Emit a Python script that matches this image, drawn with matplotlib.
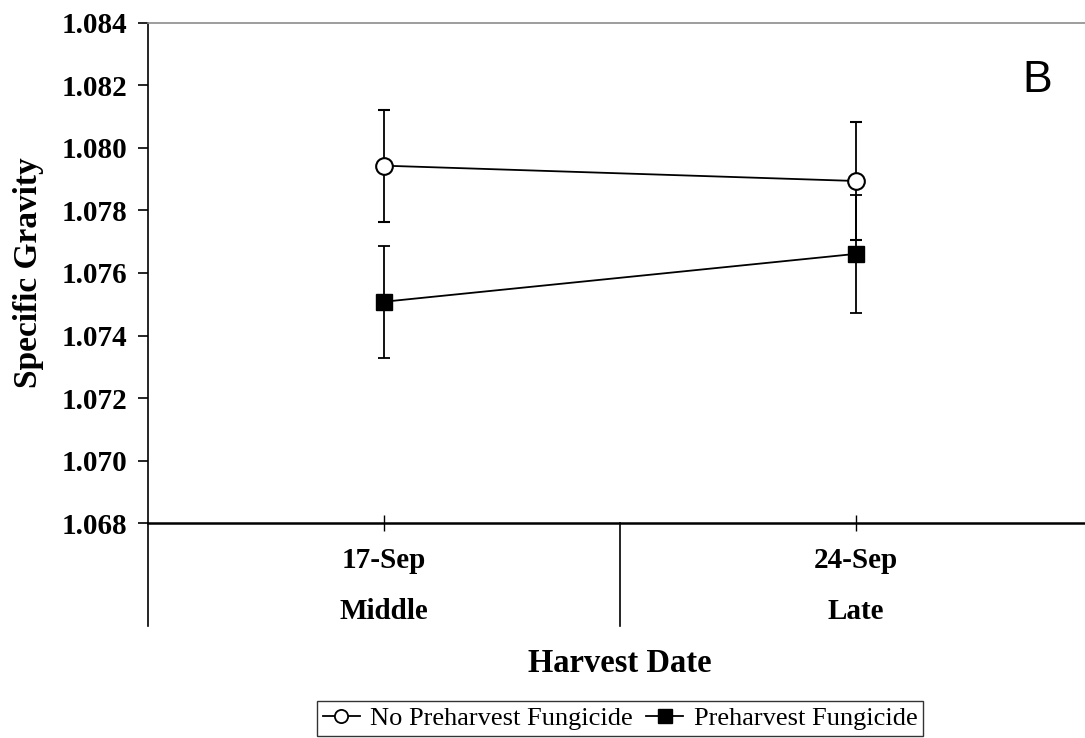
import matplotlib
matplotlib.use("Agg")
import matplotlib.pyplot as plt
from matplotlib.lines import Line2D
import matplotlib.transforms as mtransforms

dates = ["17-Sep", "24-Sep"]
stages = ["Middle", "Late"]
no_fung = [1.07943, 1.07894]
no_fung_err = [0.00179, 0.00189]
fung = [1.07508, 1.07661]
fung_err = [0.00179, 0.00189]
yticks = [1.068, 1.070, 1.072, 1.074, 1.076, 1.078, 1.080, 1.082, 1.084]

SERIF = "Liberation Serif"

def main():
    fig = plt.figure(figsize=(10.85, 7.38), dpi=100)
    ax = fig.add_axes([0.1364, 0.2911, 0.870, 0.6781])

    x = [1, 2]
    ax.errorbar(x, no_fung, yerr=no_fung_err, color="black", lw=1.3,
                elinewidth=1.3, capsize=4, capthick=1.3, marker="o",
                markersize=12, markerfacecolor="white",
                markeredgecolor="black", markeredgewidth=1.5, zorder=3)
    ax.errorbar(x, fung, yerr=fung_err, color="black", lw=1.3,
                elinewidth=1.3, capsize=4, capthick=1.3, marker="s",
                markersize=12, markerfacecolor="black",
                markeredgecolor="black", zorder=3)

    ax.set_xlim(0.5, 2.5)
    ax.set_ylim(1.068, 1.084)
    ax.set_yticks(yticks)
    ax.set_yticklabels([f"{v:.3f}" for v in yticks], fontfamily=SERIF,
                       fontweight="bold", fontsize=21)
    ax.tick_params(axis="y", direction="out", length=7, width=1.2, pad=8)
    ax.set_xticks(x)
    ax.set_xticklabels([])
    ax.tick_params(axis="x", direction="inout", length=11, width=1)

    ax.spines["right"].set_visible(False)
    ax.spines["top"].set_color("#8c8c8c")
    ax.spines["top"].set_linewidth(1.2)
    ax.spines["left"].set_linewidth(1.2)
    ax.spines["bottom"].set_linewidth(1.8)

    trans = mtransforms.blended_transform_factory(ax.transData, ax.transAxes)
    for xi, d, s in zip(x, dates, stages):
        ax.text(xi, -0.0895, d, transform=trans, ha="center", va="baseline",
                fontfamily=SERIF, fontweight="bold", fontsize=21)
        ax.text(xi, -0.1915, s, transform=trans, ha="center", va="baseline",
                fontfamily=SERIF, fontweight="bold", fontsize=21)
    for xd in [0.5, 1.5, 2.5]:
        ax.plot([xd, xd], [0, -0.2054], transform=trans, color="black",
                lw=1.2, clip_on=False)

    fig.text(29 / 1085, 1 - 273 / 738, "Specific Gravity", rotation=90,
             ha="center", va="center", fontfamily=SERIF, fontweight="bold",
             fontsize=24)
    fig.text(620 / 1085, 1 - 672 / 738, "Harvest Date", ha="center",
             va="baseline", fontfamily=SERIF, fontweight="bold", fontsize=23.5)
    fig.text(1037 / 1085, 1 - 80 / 738, "B", ha="center", va="center",
             fontfamily="Liberation Sans", fontsize=32)

    handles = [
        Line2D([], [], color="black", lw=1.3, marker="o", markersize=9.5,
               markerfacecolor="white", markeredgecolor="black",
               markeredgewidth=1.3),
        Line2D([], [], color="black", lw=1.3, marker="s", markersize=9.5,
               markerfacecolor="black", markeredgecolor="black"),
    ]
    leg = fig.legend(handles, ["No Preharvest Fungicide", "Preharvest Fungicide"],
                     loc="center", bbox_to_anchor=(620 / 1085, 1 - 718.5 / 738),
                     ncol=2, frameon=True, fancybox=False, edgecolor="black",
                     prop={"family": SERIF, "size": 19}, handlelength=1.4,
                     handletextpad=0.4, columnspacing=0.5, borderpad=0.2,
                     borderaxespad=0)
    leg.get_frame().set_linewidth(1.0)

    fig.savefig("out.png", dpi=100)

if __name__ == "__main__":
    main()
